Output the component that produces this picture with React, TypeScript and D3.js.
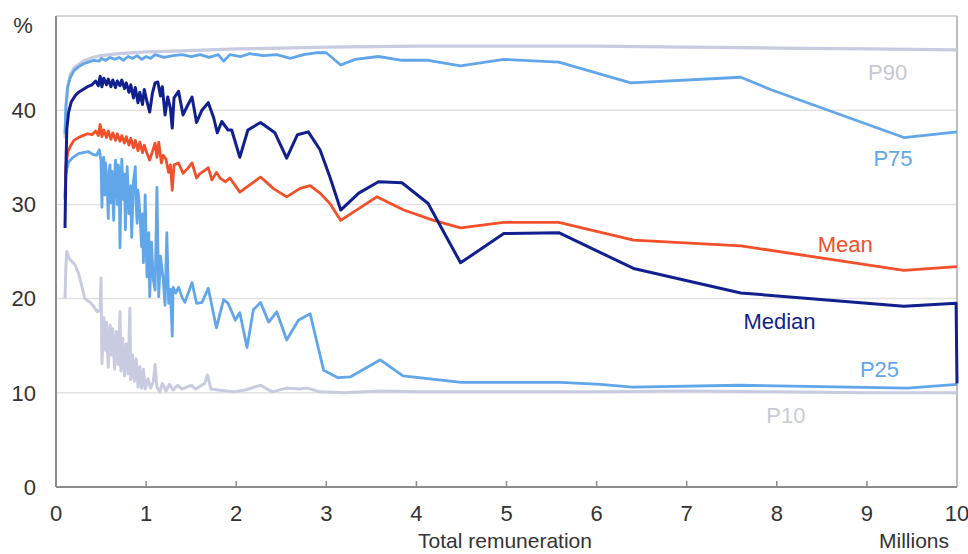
import React from 'react';
import * as d3 from 'd3';

// Series values: [total remuneration (millions), rate %]
const p90: [number, number][] = [
  [0.1, 37], [0.11, 40], [0.13, 42.5], [0.16, 43.8], [0.2, 44.5], [0.3, 45.2], [0.4, 45.6], [0.5, 45.8],
  [0.7, 46], [1.0, 46.2], [1.4, 46.3], [2.0, 46.5], [2.5, 46.6], [3.0, 46.7], [4.0, 46.8], [5.0, 46.8],
  [6.0, 46.8], [7.0, 46.7], [8.0, 46.6], [9.0, 46.5], [10, 46.4],
];

const p75: [number, number][] = [
  [0.1, 37.5], [0.11, 40.5], [0.13, 42.5], [0.16, 43.5], [0.2, 44.2], [0.25, 44.6], [0.3, 44.9], [0.36, 45.1],
  [0.42, 45.3], [0.48, 45.2], [0.5, 45.5], [0.55, 45.3], [0.6, 45.6], [0.65, 45.4], [0.7, 45.6], [0.75, 45.3],
  [0.8, 45.7], [0.85, 45.5], [0.9, 45.8], [0.95, 45.4], [1.0, 45.7], [1.05, 45.5], [1.1, 45.9], [1.2, 45.6],
  [1.3, 45.8], [1.4, 45.9], [1.5, 45.7], [1.6, 45.9], [1.7, 45.6], [1.8, 45.9], [1.86, 45.2], [1.93, 45.9],
  [2.05, 45.7], [2.15, 46.0], [2.3, 45.8], [2.45, 45.9], [2.6, 45.5], [2.75, 45.9], [2.9, 46.1], [3.0, 46.1],
  [3.16, 44.8], [3.32, 45.4], [3.58, 45.7], [3.84, 45.3], [4.13, 45.3], [4.49, 44.7], [4.97, 45.4], [5.58, 45.1],
  [6.38, 42.9], [7.6, 43.5], [7.93, 42.2], [9.41, 37.1], [10, 37.7],
];

const median: [number, number][] = [
  [0.1, 27.5], [0.11, 34], [0.12, 38], [0.14, 39.8], [0.17, 40.9], [0.21, 41.5], [0.25, 41.9], [0.3, 42.2],
  [0.35, 42.5], [0.4, 42.7], [0.44, 43.1], [0.47, 42.6], [0.49, 43.6], [0.51, 42.5], [0.53, 43.4], [0.56, 42.7],
  [0.58, 43.3], [0.61, 42.5], [0.63, 43.2], [0.66, 42.4], [0.68, 43.1], [0.71, 42.6], [0.73, 43.2], [0.76, 42.3],
  [0.78, 42.9], [0.81, 41.9], [0.83, 42.7], [0.86, 41.3], [0.88, 42.4], [0.91, 40.8], [0.93, 41.9], [0.96, 40.6],
  [0.98, 42.2], [1.01, 40.9], [1.04, 39.8], [1.07, 41.8], [1.1, 42.9], [1.13, 43.0], [1.16, 41.5], [1.18, 42.5],
  [1.21, 39.5], [1.24, 41.4], [1.27, 40.2], [1.29, 38.1], [1.31, 41.3], [1.36, 42.0], [1.41, 39.5], [1.46, 40.5],
  [1.51, 41.4], [1.56, 38.7], [1.62, 40.0], [1.69, 40.8], [1.75, 39.2], [1.79, 37.6], [1.84, 38.8], [1.91, 37.9],
  [1.95, 37.9], [2.04, 35.0], [2.13, 37.9], [2.27, 38.7], [2.43, 37.6], [2.56, 34.9], [2.68, 37.4], [2.8, 37.7],
  [2.93, 35.8], [3.04, 32.9], [3.16, 29.4], [3.36, 31.2], [3.58, 32.4], [3.84, 32.3], [4.13, 30.1], [4.49, 23.8],
  [4.97, 26.9], [5.58, 27.0], [6.41, 23.2], [7.6, 20.6], [9.41, 19.2], [9.99, 19.5], [10, 11],
];

const mean: [number, number][] = [
  [0.1, 30.5], [0.11, 34], [0.13, 35.5], [0.16, 36.2], [0.2, 36.8], [0.25, 37.1], [0.3, 37.3], [0.35, 37.5],
  [0.4, 37.4], [0.44, 37.8], [0.47, 37.3], [0.49, 38.5], [0.51, 37.2], [0.53, 37.9], [0.56, 37.1], [0.58, 37.8],
  [0.61, 36.9], [0.63, 37.6], [0.66, 36.8], [0.68, 37.5], [0.71, 36.7], [0.73, 37.3], [0.76, 36.5], [0.78, 37.2],
  [0.81, 36.3], [0.83, 37.0], [0.86, 36.0], [0.88, 36.8], [0.91, 35.7], [0.93, 36.6], [0.96, 35.5], [0.98, 36.3],
  [1.01, 35.4], [1.04, 34.7], [1.07, 35.6], [1.1, 36.5], [1.12, 35.0], [1.14, 36.6], [1.17, 34.4], [1.19, 35.2],
  [1.22, 34.8], [1.25, 33.4], [1.27, 34.2], [1.29, 31.5], [1.31, 34.2], [1.36, 34.4], [1.41, 33.3], [1.46, 33.8],
  [1.51, 34.4], [1.56, 32.8], [1.6, 33.3], [1.65, 33.6], [1.69, 33.9], [1.73, 32.6], [1.78, 33.4], [1.82, 32.8],
  [1.88, 32.4], [1.93, 32.8], [2.04, 31.3], [2.17, 32.2], [2.27, 32.9], [2.41, 31.7], [2.56, 30.8], [2.71, 31.7],
  [2.82, 32.0], [2.93, 31.2], [3.04, 30.1], [3.16, 28.3], [3.56, 30.8], [3.86, 29.4], [4.19, 28.3], [4.49, 27.5],
  [4.97, 28.1], [5.58, 28.1], [6.41, 26.2], [7.6, 25.6], [9.41, 23.0], [10, 23.4],
];

const p25: [number, number][] = [
  [0.1, 30.8], [0.11, 33.3], [0.14, 34.5], [0.19, 35.0], [0.25, 35.4], [0.3, 35.5], [0.36, 35.6], [0.41, 35.3],
  [0.45, 35.2], [0.48, 35.8], [0.5, 34.6], [0.51, 29.7], [0.52, 34.8], [0.53, 35.0], [0.54, 31.0], [0.55, 34.4],
  [0.57, 31.5], [0.58, 28.5], [0.59, 33.6], [0.6, 34.2], [0.61, 30.2], [0.62, 33.5], [0.64, 28.3], [0.65, 33.0],
  [0.66, 34.7], [0.68, 30.0], [0.69, 34.2], [0.7, 33.8], [0.71, 25.4], [0.72, 31.0], [0.73, 34.8], [0.75, 30.5],
  [0.76, 33.2], [0.77, 27.3], [0.79, 34.0], [0.8, 31.5], [0.81, 29.0], [0.83, 32.0], [0.84, 26.5], [0.86, 32.5],
  [0.88, 34.0], [0.89, 30.0], [0.9, 28.0], [0.91, 31.5], [0.92, 30.5], [0.94, 27.5], [0.95, 25.5], [0.96, 29.0],
  [0.97, 23.8], [0.99, 31.0], [1.0, 26.0], [1.01, 22.3], [1.03, 27.0], [1.04, 20.2], [1.06, 26.0], [1.08, 22.0],
  [1.1, 20.9], [1.12, 31.8], [1.14, 20.2], [1.16, 24.5], [1.19, 22.0], [1.21, 19.3], [1.23, 27.0], [1.25, 19.5],
  [1.27, 21.0], [1.29, 16.0], [1.3, 21.2], [1.33, 20.6], [1.36, 21.2], [1.4, 20.1], [1.43, 19.6], [1.51, 21.7],
  [1.56, 19.5], [1.62, 19.6], [1.69, 21.1], [1.78, 16.9], [1.86, 19.9], [1.91, 19.5], [1.99, 17.7], [2.04, 18.5],
  [2.12, 14.8], [2.19, 18.8], [2.27, 19.6], [2.36, 17.5], [2.45, 18.6], [2.56, 15.6], [2.69, 17.7], [2.82, 18.4],
  [2.97, 12.4], [3.13, 11.6], [3.27, 11.7], [3.6, 13.5], [3.85, 11.8], [4.5, 11.1], [5.0, 11.1], [5.6, 11.1],
  [6.04, 10.9], [6.4, 10.6], [7.58, 10.8], [9.45, 10.5], [10, 10.9],
];

const p10: [number, number][] = [
  [0.1, 20], [0.11, 23.5], [0.12, 25], [0.15, 24.2], [0.18, 23.9], [0.21, 23.6], [0.25, 22.7], [0.29, 21.2],
  [0.32, 20.0], [0.35, 19.8], [0.38, 19.6], [0.43, 19.0], [0.46, 18.6], [0.49, 18.8], [0.5, 22.2], [0.51, 13.1],
  [0.53, 18.0], [0.55, 14.5], [0.56, 17.5], [0.58, 12.7], [0.6, 17.2], [0.62, 14.0], [0.63, 16.8], [0.65, 12.5],
  [0.67, 16.5], [0.69, 13.0], [0.71, 18.6], [0.72, 12.3], [0.74, 15.8], [0.76, 11.8], [0.78, 15.2], [0.8, 12.0],
  [0.82, 19.0], [0.83, 11.4], [0.85, 14.0], [0.87, 11.2], [0.89, 13.6], [0.91, 10.6], [0.93, 12.8], [0.95, 10.5],
  [0.97, 12.5], [0.99, 10.4], [1.02, 11.5], [1.05, 10.5], [1.08, 11.2], [1.1, 13.0], [1.12, 10.6], [1.15, 10.1],
  [1.18, 11.0], [1.22, 10.2], [1.26, 10.9], [1.3, 10.3], [1.35, 10.8], [1.4, 10.4], [1.45, 10.6], [1.5, 10.8],
  [1.55, 10.4], [1.6, 10.7], [1.65, 11.0], [1.68, 11.9], [1.72, 10.4], [1.8, 10.3], [1.9, 10.2], [1.97, 10.1],
  [2.1, 10.3], [2.27, 10.8], [2.4, 10.1], [2.56, 10.5], [2.7, 10.4], [2.79, 10.5], [2.93, 10.1], [3.2, 10.0],
  [3.6, 10.2], [4.0, 10.1], [5.0, 10.1], [6.0, 10.1], [7.0, 10.2], [8.0, 10.1], [9.0, 10.0], [10, 10.0],
];

const xTicks = [0, 1, 2, 3, 4, 5, 6, 7, 8, 9, 10];
const yTicks = [0, 10, 20, 30, 40];

const LIGHT = '#c9cce0';
const BLUE = '#62a6ea';
const NAVY = '#121f8e';
const RED = '#f1502a';

const series = [
  { name: 'P90', data: p90, color: LIGHT, width: 3.2 },
  { name: 'P10', data: p10, color: LIGHT, width: 3 },
  { name: 'P75', data: p75, color: BLUE, width: 2.8 },
  { name: 'P25', data: p25, color: BLUE, width: 2.8 },
  { name: 'Mean', data: mean, color: RED, width: 2.8 },
  { name: 'Median', data: median, color: NAVY, width: 3 },
];

// label positions are in data units
const labels = [
  { text: 'P90', x: 9.23, y: 43.2, color: '#c6c7d2' },
  { text: 'P75', x: 9.29, y: 34.1, color: BLUE },
  { text: 'Mean', x: 8.76, y: 24.9, color: RED },
  { text: 'Median', x: 8.03, y: 16.8, color: NAVY },
  { text: 'P25', x: 9.14, y: 11.7, color: BLUE },
  { text: 'P10', x: 8.1, y: 6.8, color: '#c9cbd9' },
];

const W = 968;
const H = 554;
const margin = { top: 16, right: 11, bottom: 67, left: 56 };
const FONT = '"Liberation Sans", Arial, sans-serif';

export default function App() {
  const x = d3.scaleLinear().domain([0, 10]).range([margin.left, W - margin.right]);
  const y = d3.scaleLinear().domain([0, 50]).range([H - margin.bottom, margin.top]);

  const line = d3.line<[number, number]>()
    .x(d => x(d[0]))
    .y(d => y(d[1]));

  const x0 = x(0), x1 = x(10), y0 = y(0), yTop = y(50);

  return (
    <svg width={W} height={H} style={{ position: 'absolute', left: 0, top: 0, background: '#fff' }}
      fontFamily={FONT}>
      {/* gridlines */}
      {yTicks.filter(t => t > 0).map(t => (
        <line key={t} x1={x0} x2={x1} y1={y(t)} y2={y(t)} stroke="#e2e2e2" strokeWidth={1.5} />
      ))}
      <line x1={x0} x2={x1} y1={yTop} y2={yTop} stroke="#d6d6d6" strokeWidth={2} />
      <line x1={x1} x2={x1} y1={yTop} y2={y0} stroke="#a8a8a8" strokeWidth={1.5} />

      {series.map(s => (
        <path key={s.name} d={line(s.data) || ''} fill="none" stroke={s.color}
          strokeWidth={s.width} strokeLinejoin="round" />
      ))}

      {/* axes */}
      <line x1={x0} x2={x0} y1={yTop} y2={y0} stroke="#8c8c8c" strokeWidth={2} />
      <line x1={x0} x2={x1} y1={y0} y2={y0} stroke="#8c8c8c" strokeWidth={2} />
      {xTicks.filter(t => t > 0 && t < 10).map(t => (
        <line key={t} x1={x(t)} x2={x(t)} y1={y0} y2={y0 - 6} stroke="#8c8c8c" strokeWidth={1.5} />
      ))}

      {yTicks.map(t => (
        <text key={t} x={36} y={y(t)} dy="0.35em" textAnchor="end" fontSize={22} fill="#333">{t}</text>
      ))}
      {xTicks.map(t => (
        <text key={t} x={x(t)} y={521} textAnchor="middle" fontSize={22} fill="#333">{t}</text>
      ))}
      <text x={23} y={33} textAnchor="middle" fontSize={22} fill="#333">%</text>
      <text x={505} y={548} textAnchor="middle" fontSize={21} fill="#333">Total remuneration</text>
      <text x={914} y={548} textAnchor="middle" fontSize={21} fill="#333">Millions</text>

      {labels.map(l => (
        <text key={l.text} x={x(l.x)} y={y(l.y)} textAnchor="middle" fontSize={22} fill={l.color}>{l.text}</text>
      ))}
    </svg>
  );
}
